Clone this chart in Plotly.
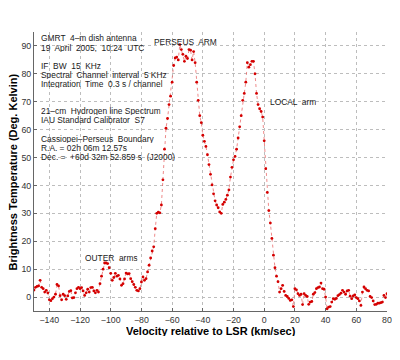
import plotly.graph_objects as go

# Channel velocities (km/s, relative to LSR), one channel per km/s
velocity = list(range(-150, 81))

# Brightness temperature (K), one value per channel
temperature = [
    # -150 .. -141
    2.5, 3.5, 3.8, 4.0, 6.0, 3.5, 3.0, 1.8, 2.4, 1.5,
    # -140 .. -131
    -1.0, -1.3, -0.6, 0.0, 1.0, 4.5, 4.0, 0.5, -1.0, 1.0,
    # -130 .. -121
    0.5, -0.8, 0.4, 2.0, 2.3, -0.3, -0.2, 1.5, 3.0, 3.5,
    # -120 .. -111
    3.0, 3.4, 2.2, 0.6, 1.5, 2.8, 1.8, 3.4, 3.5, 2.2,
    # -110 .. -101
    1.5, 2.4, 1.8, 4.8, 7.5, 10.0, 12.2, 12.2, 12.0, 10.5,
    # -100 .. -91
    8.5, 6.0, 7.0, 8.5, 7.5, 7.8, 6.5, 4.2, 4.8, 6.5,
    # -90 .. -81
    8.6, 8.3, 8.4, 6.6, 5.5, 4.5, 3.5, 2.4, 2.2, 3.0,
    # -80 .. -71
    5.4, 7.2, 6.0, 6.6, 9.0, 11.4, 14.0, 16.5, 18.0, 24.5,
    # -70 .. -61
    30.0, 30.4, 30.2, 33.0, 42.0, 53.0, 60.5, 64.0, 69.0, 72.0,
    # -60 .. -51
    77.0, 83.0, 85.7, 86.0, 85.0, 90.5, 88.7, 87.0, 84.5, 86.3,
    # -50 .. -41
    85.5, 88.7, 88.5, 85.0, 88.0, 84.0, 77.0, 70.5, 65.0, 62.5,
    # -40 .. -31
    58.0, 55.8, 54.0, 51.0, 47.5, 44.0, 40.2, 37.0, 34.5, 33.0,
    # -30 .. -21
    32.0, 30.5, 30.0, 33.2, 34.0, 35.0, 36.5, 38.4, 43.0, 46.5,
    # -20 .. -11
    49.2, 50.4, 53.0, 57.0, 61.0, 65.0, 70.5, 73.0, 77.0, 84.0,
    # -10 .. -1
    82.4, 83.3, 84.5, 84.5, 80.0, 73.0, 69.0, 67.5, 66.5, 64.5,
    # 0 .. 9
    56.0, 46.0, 37.5, 31.0, 26.5, 21.0, 15.0, 10.5, 7.5, 5.5,
    # 10 .. 19
    1.8, 3.0, 4.2, 2.0, 0.6, 0.2, -0.5, -1.2, -1.0, -3.4,
    # 20 .. 29
    3.0, 2.6, 1.2, 0.6, 1.0, -2.7, 1.2, 0.6, 0.2, -2.6,
    # 30 .. 39
    -1.8, -1.6, 1.0, 1.6, 3.0, 3.4, 3.6, 5.0, 3.0, 2.8,
    # 40 .. 49
    0.0, -4.2, -3.6, -3.4, -1.8, -0.6, -0.8, -0.5, 0.5, 0.9,
    # 50 .. 59
    1.4, 2.4, 1.8, 1.0, 2.2, 2.4, 0.3, -0.6, 0.4, 0.8,
    # 60 .. 69
    -0.2, -0.6, -1.4, -3.0, 1.8, 3.6, 3.0, 2.4, 2.2, 0.2,
    # 70 .. 80
    -0.2, -1.4, -2.7, -2.6, -2.2, -2.2, -2.0, -1.8, 0.6, -0.2, 1.2,
]

x_ticks = [-140, -120, -100, -80, -60, -40, -20, 0, 20, 40, 60, 80]
y_ticks = [0, 10, 20, 30, 40, 50, 60, 70, 80, 90]

info_lines = [
    "GMRT  4\u2013m dish antenna",
    "19  April  2005,  10:24  UTC",
    "IF  BW  15  KHz",
    "Spectral  Channel  interval  5 KHz",
    "Integration  Time  0.3 s / channel",
    "21\u2013cm  Hydrogen line Spectrum",
    "IAU Standard Calibrator  S7",
    "Cassiopei\u2013Perseus  Boundary",
    "R.A. = 02h 06m 12.57s",
    "Dec. =  +60d 32m 52.859 s  (J2000)",
]
info_y = [93.0, 89.6, 83.0, 79.7, 76.4, 66.8, 63.6, 57.0, 53.6, 50.4]

FONT = "Liberation Sans, Arial, Helvetica, sans-serif"
TXT = dict(family=FONT, size=8.4, color="#1a1a1a")

fig = go.Figure()
fig.add_trace(go.Scatter(
    x=velocity, y=temperature, mode="lines+markers",
    line=dict(color="rgba(230,90,90,0.7)", width=1, dash="dot"),
    marker=dict(color="#d40000", size=2.8),
    hoverinfo="x+y", showlegend=False,
))

ann = []
for txt, yy in zip(info_lines, info_y):
    ann.append(dict(x=-146, y=yy, xref="x", yref="y", text=txt, showarrow=False,
                    xanchor="left", yanchor="middle", height=9, borderpad=0, font=TXT))
ann += [
    dict(x=-51.5, y=91.5, xref="x", yref="y", text="PERSEUS  ARM", showarrow=False,
         xanchor="center", yanchor="middle", height=9, borderpad=0, font=TXT),
    dict(x=2.8, y=70.1, xref="x", yref="y", text="LOCAL  arm", showarrow=False,
         xanchor="left", yanchor="middle", height=9, borderpad=0, font=TXT),
    dict(x=-99.7, y=14.2, xref="x", yref="y", text="OUTER  arms", showarrow=False,
         xanchor="center", yanchor="middle", height=9, borderpad=0, font=TXT),
    dict(x=0.5, y=-0.0705, xref="paper", yref="paper", text="<b>Velocity relative to LSR (km/sec)</b>",
         showarrow=False, xanchor="center", yanchor="middle", height=11, borderpad=0,
         font=dict(family=FONT, size=11, color="#000")),
    dict(x=-0.0595, y=0.5, xref="paper", yref="paper", text="<b>Brightness Temperature (Deg. Kelvin)</b>",
         showarrow=False, xanchor="center", yanchor="middle", textangle=-90,
         font=dict(family=FONT, size=11, color="#000")),
]

axis_common = dict(
    showgrid=True, gridcolor="#bdbdbd", gridwidth=1, griddash="dot",
    showline=True, linecolor="#666", linewidth=1, mirror=False,
    ticks="inside", ticklen=3, tickcolor="#666", zeroline=False,
    automargin=False,
    tickfont=dict(family=FONT, size=8.8, color="#333"),
)

# The page adds an 8 px body margin, so the figure is 8 px smaller on each
# side and its margins are shifted to put the plot where the reference has it.
fig.update_layout(
    width=392, height=352,
    margin=dict(l=26, r=13, t=24, b=49, pad=0, autoexpand=False),
    paper_bgcolor="white", plot_bgcolor="white",
    xaxis=dict(range=[-150, 80], tickvals=x_ticks, **axis_common),
    yaxis=dict(range=[-5, 95], tickvals=y_ticks, **axis_common),
    annotations=ann,
)

fig.write_html("out.html")
